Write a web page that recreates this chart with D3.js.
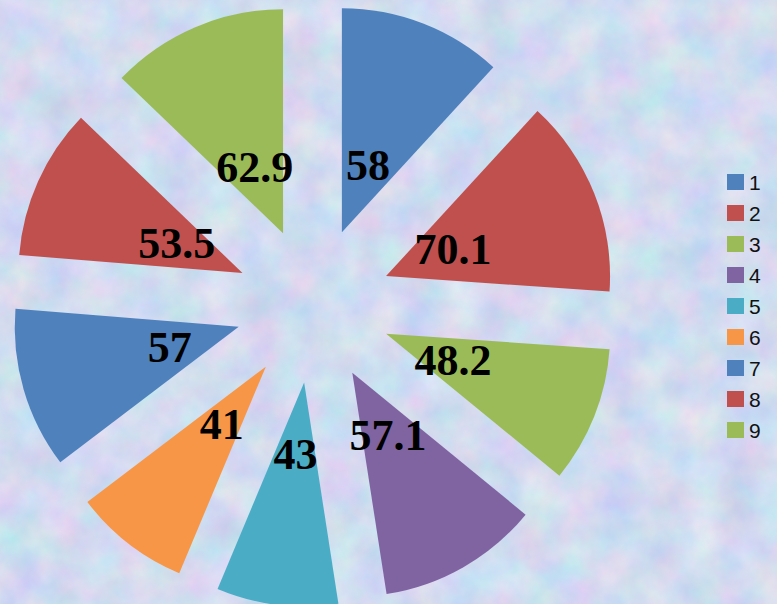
<!DOCTYPE html>
<html lang="en">
<head>
<meta charset="utf-8">
<title>Exploded pie</title>
<script src="https://d3js.org/d3.v7.min.js"></script>
<style type="text/css">
body { margin: 0; padding: 0; overflow: hidden; }
.label { font: bold 44px "Liberation Serif", "Times New Roman", serif; fill: #000; }
.legend text { font: 21px "Liberation Sans", Arial, sans-serif; fill: #111; }
</style>
</head>
<body>
<script type="text/javascript">

// chart data
const categories = ["1", "2", "3", "4", "5", "6", "7", "8", "9"];
const values = [58, 70.1, 48.2, 57.1, 43, 41, 57, 53.5, 62.9];
const colors = ["#4F81BD", "#C0504D", "#9BBB59", "#8064A2", "#4BACC6",
                "#F79646", "#4F81BD", "#C0504D", "#9BBB59"];

const width = 777;
const height = 604;
const cx = 313.6, cy = 305;
const radius = 224;
const explode = 78;     // how far each slice is pulled out
const labelRadius = 150;

const svg = d3.select("body").append("svg")
    .attr("width", width)
    .attr("height", height);

// textured light blue background
const defs = svg.append("defs");
const filt = defs.append("filter")
    .attr("id", "paper")
    .attr("x", 0).attr("y", 0).attr("width", "100%").attr("height", "100%")
    .attr("color-interpolation-filters", "sRGB");
filt.append("feTurbulence")
    .attr("type", "fractalNoise")
    .attr("baseFrequency", "0.025")
    .attr("numOctaves", 4)
    .attr("seed", 7);
filt.append("feColorMatrix")
    .attr("type", "matrix")
    .attr("values",
      "0.24 0 0 0 0.70  " +
      "0 0.16 0 0 0.78  " +
      "0 0 0.08 0 0.90  " +
      "0 0 0 0 1");

svg.append("rect")
    .attr("width", width).attr("height", height)
    .attr("fill", "#d0dcf0");
svg.append("rect")
    .attr("width", width).attr("height", height)
    .attr("filter", "url(#paper)");

const pie = d3.pie().sort(null).value(d => d);
const arcs = pie(values);

const arc = d3.arc().innerRadius(0).outerRadius(radius);
const offsetArc = d3.arc().innerRadius(explode).outerRadius(explode);
const labelArc = d3.arc().innerRadius(labelRadius).outerRadius(labelRadius);

const g = svg.append("g").attr("transform", `translate(${cx},${cy})`);

g.selectAll("path")
    .data(arcs)
    .enter()
    .append("path")
    .attr("d", arc)
    .attr("transform", d => {
        const c = offsetArc.centroid(d);
        return `translate(${c[0]},${c[1]})`;
    })
    .style("fill", (d, i) => colors[i]);

g.selectAll("text.label")
    .data(arcs)
    .enter()
    .append("text")
    .attr("class", "label")
    .attr("text-anchor", "middle")
    .attr("x", d => labelArc.centroid(d)[0])
    .attr("y", d => labelArc.centroid(d)[1] + 15)
    .text(d => d.data);

// legend
const legendY = d3.scalePoint()
    .domain(categories)
    .range([182, 430]);

const legend = svg.append("g").attr("class", "legend");
const item = legend.selectAll("g")
    .data(categories)
    .enter()
    .append("g")
    .attr("transform", d => `translate(727,${legendY(d)})`);

item.append("rect")
    .attr("x", 0).attr("y", -8)
    .attr("width", 17).attr("height", 16)
    .style("fill", (d, i) => colors[i]);

item.append("text")
    .attr("x", 22)
    .attr("y", 7.5)
    .text(d => d);

</script>
</body>
</html>
